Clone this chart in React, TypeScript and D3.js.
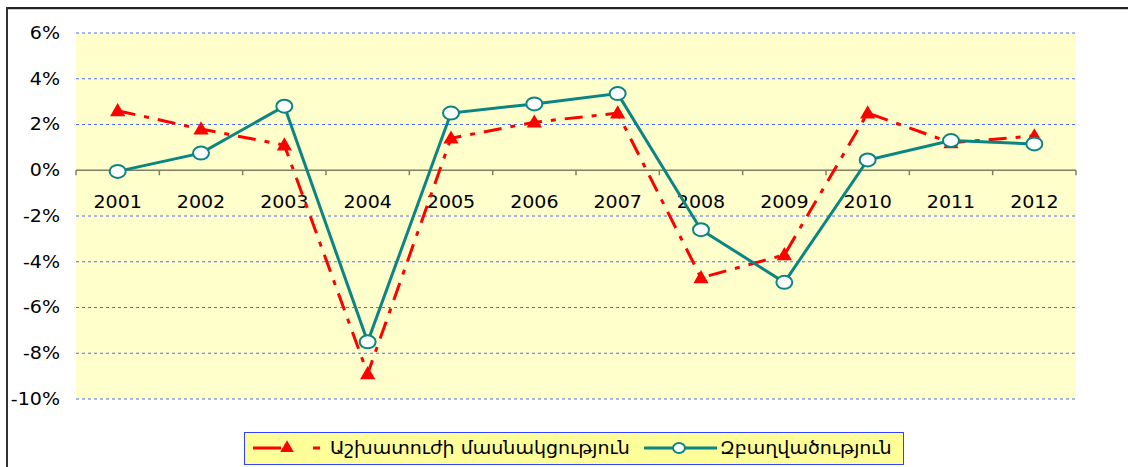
import React from "react";
import * as d3 from "d3";

const years = ["2001","2002","2003","2004","2005","2006","2007","2008","2009","2010","2011","2012"];
const participation = [2.6, 1.8, 1.1, -8.9, 1.4, 2.1, 2.5, -4.7, -3.7, 2.5, 1.2, 1.5];
const employment = [-0.05, 0.75, 2.8, -7.5, 2.5, 2.9, 3.35, -2.6, -4.9, 0.45, 1.3, 1.15];
const yTicks = [6, 4, 2, 0, -2, -4, -6, -8, -10];
const seriesNames = ["Աշխատուժի մասնակցություն", "Զբաղվածություն"];

const W = 1128, H = 467;
const PL = 76, PR = 1076, PT = 33, PB = 399;
const RED = "#FF0000";
const TEAL = "#0B8582";
const FONT = "'DejaVu Sans', Verdana, sans-serif";
const SX = 1.12;

function T(props: { x: number; y: number; anchor?: string; size?: number; children: React.ReactNode }) {
  const { x, y, anchor = "start", size = 17, children } = props;
  return (
    <text
      transform={`translate(${x},${y}) scale(${SX},1)`}
      textAnchor={anchor as any}
      dy="0.35em"
      fontFamily={FONT}
      fontSize={size}
      fill="#000"
    >
      {children}
    </text>
  );
}

export default function App() {
  const x = d3.scaleBand<string>().domain(years).range([PL, PR]);
  const y = d3.scaleLinear().domain([-10, 6]).range([PB, PT]);
  const cx = (d: string) => (x(d) ?? 0) + x.bandwidth() / 2;
  const line = d3.line<number>().x((_, i) => cx(years[i])).y((v) => y(v));
  const triPath = d3.symbol().type(d3.symbolTriangle).size(100)() as string;
  const triLeg = d3.symbol().type(d3.symbolTriangle).size(80)() as string;
  const boundaries = d3.range(years.length + 1).map((i) => PL + i * x.bandwidth());
  const LY = 448;

  return (
    <svg width={W} height={H} style={{ position: "absolute", left: 0, top: 0, background: "#fff" }}>
      {/* outer frame */}
      <line x1={7} y1={8} x2={W} y2={8} stroke="#222" strokeWidth={2} />
      <line x1={7} y1={9.5} x2={W} y2={9.5} stroke="#ccc" strokeWidth={1} />
      <line x1={7} y1={7} x2={7} y2={H} stroke="#333" strokeWidth={2} />

      <rect x={PL} y={PT} width={PR - PL} height={PB - PT} fill="#FFFFCC" />
      {yTicks.filter((t) => t !== 0).map((t) => (
        <line key={t} x1={PL} x2={PR} y1={y(t)} y2={y(t)} stroke="#4B6EF5" strokeWidth={1} strokeDasharray="3,3" />
      ))}
      {yTicks.map((t) => (
        <T key={"l" + t} x={60} y={y(t)} anchor="end">{t + "%"}</T>
      ))}
      {/* zero axis */}
      <line x1={PL} x2={PR} y1={y(0)} y2={y(0)} stroke="#7F7F60" strokeWidth={1.5} />
      {boundaries.map((b, i) => (
        <line key={"t" + i} x1={b} x2={b} y1={y(0)} y2={y(0) + 5} stroke="#7F7F60" strokeWidth={1.5} />
      ))}
      {years.map((yr) => (
        <T key={yr} x={cx(yr)} y={y(0) + 32} anchor="middle">{yr}</T>
      ))}

      {/* participation */}
      <path d={line(participation) as string} fill="none" stroke={RED} strokeWidth={3} strokeDasharray="18,9,5,9" />
      {participation.map((v, i) => (
        <path key={"p" + i} d={triPath} transform={`translate(${cx(years[i])},${y(v) + 1})`} fill={RED} />
      ))}

      {/* employment */}
      <path d={line(employment) as string} fill="none" stroke={TEAL} strokeWidth={3} />
      {employment.map((v, i) => (
        <ellipse key={"e" + i} cx={cx(years[i])} cy={y(v)} rx={8} ry={6.5} fill="#fff" stroke={TEAL} strokeWidth={2} />
      ))}

      {/* legend */}
      <rect x={244.5} y={432.5} width={659} height={32} fill="#FFFF99" stroke="#3344FF" strokeWidth={1} />
      <line x1={253} x2={281} y1={LY} y2={LY} stroke={RED} strokeWidth={3} />
      <path d={triLeg} transform={`translate(287,${LY})`} fill={RED} />
      <line x1={313} x2={320} y1={LY} y2={LY} stroke={RED} strokeWidth={3} />
      <T x={330} y={LY}>{seriesNames[0]}</T>
      <line x1={644} x2={717} y1={LY} y2={LY} stroke={TEAL} strokeWidth={3} />
      <ellipse cx={679} cy={LY} rx={6} ry={5} fill="#fff" stroke={TEAL} strokeWidth={2} />
      <T x={720} y={LY}>{seriesNames[1]}</T>
    </svg>
  );
}
